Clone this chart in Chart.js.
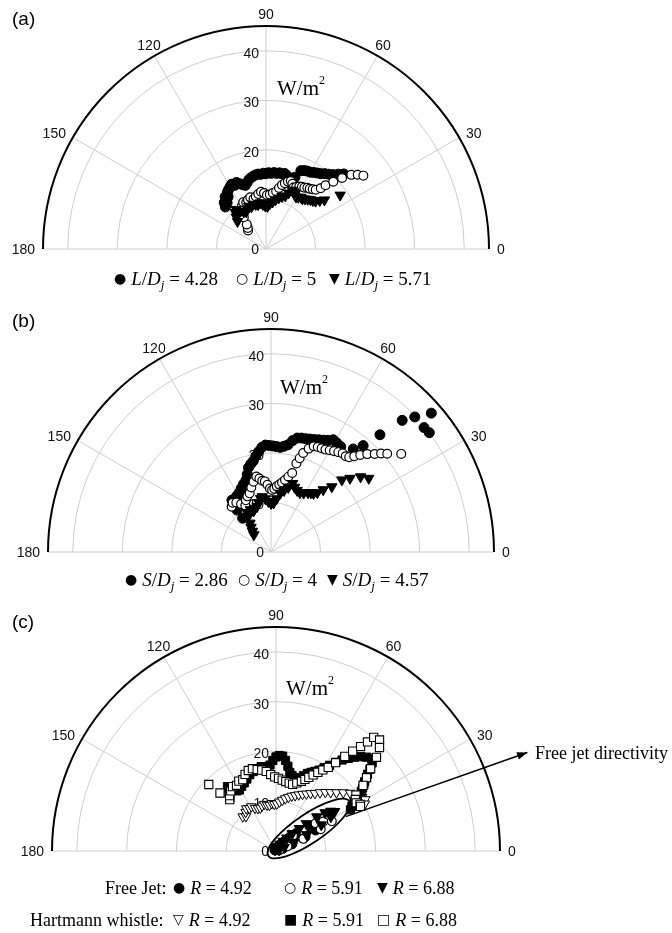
<!DOCTYPE html>
<html>
<head>
<meta charset="utf-8">
<script src="https://cdn.jsdelivr.net/npm/chart.js@4.4.0/dist/chart.umd.min.js"></script>
<style>
  body { margin:0; background:#fff; }
  #page { position:relative; width:672px; height:933px; overflow:hidden; color:#000; }
  canvas { position:absolute; left:0; }
  .tag { position:absolute; left:12px; font:19px "Liberation Sans", Arial, sans-serif; line-height:20px; }
  .unit { position:absolute; font:21px "Liberation Serif", serif; line-height:20px; }
  .unit sup { font-size:12px; position:relative; top:-3px; }
  .leg { position:absolute; font:19px "Liberation Serif", serif; line-height:22px; white-space:nowrap; }
  .legc { font-size:18px; }
  .mk { font:14px "DejaVu Sans", sans-serif; position:relative; top:-2px; margin-right:5px; }
  .leg sub { font-size:13px; vertical-align:-4px; line-height:0; }
  .note { position:absolute; left:535px; top:742px; font:18px "Liberation Serif", serif; line-height:22px; white-space:nowrap; }
</style>
</head>
<body>
<div id="page">
  <canvas id="chartA" width="672" height="300" style="top:0"></canvas>
  <canvas id="chartB" width="672" height="300" style="top:300px"></canvas>
  <canvas id="chartC" width="672" height="333" style="top:600px"></canvas>

  <div class="tag" style="top:9px">(a)</div>
  <div class="tag" style="top:311px">(b)</div>
  <div class="tag" style="top:612px">(c)</div>

  <div class="unit" style="left:277px;top:73px">W/m<sup>2</sup></div>
  <div class="unit" style="left:280px;top:372px">W/m<sup>2</sup></div>
  <div class="unit" style="left:286px;top:673px">W/m<sup>2</sup></div>

  <div class="leg" style="left:114px;top:268px"><span class="mk">●</span><i>L</i>/<i>D<sub>j</sub></i> = 4.28</div>
  <div class="leg" style="left:236px;top:268px"><span class="mk">○</span><i>L</i>/<i>D<sub>j</sub></i> = 5</div>
  <div class="leg" style="left:329px;top:268px"><span class="mk">▼</span><i>L</i>/<i>D<sub>j</sub></i> = 5.71</div>

  <div class="leg" style="left:125px;top:569px"><span class="mk">●</span><i>S</i>/<i>D<sub>j</sub></i> = 2.86</div>
  <div class="leg" style="left:238px;top:569px"><span class="mk">○</span><i>S</i>/<i>D<sub>j</sub></i> = 4</div>
  <div class="leg" style="left:327px;top:569px"><span class="mk">▼</span><i>S</i>/<i>D<sub>j</sub></i> = 4.57</div>

  <div class="leg legc" style="left:105px;top:877px">Free Jet:</div>
  <div class="leg legc" style="left:173px;top:877px"><span class="mk">●</span><i>R</i> = 4.92</div>
  <div class="leg legc" style="left:284px;top:877px"><span class="mk">○</span><i>R</i> = 5.91</div>
  <div class="leg legc" style="left:377px;top:877px"><span class="mk">▼</span><i>R</i> = 6.88</div>
  <div class="leg legc" style="left:30px;top:909px">Hartmann whistle:</div>
  <div class="leg legc" style="left:173px;top:909px"><span class="mk">▽</span><i>R</i> = 4.92</div>
  <div class="leg legc" style="left:284px;top:909px"><span class="mk">■</span><i>R</i> = 5.91</div>
  <div class="leg legc" style="left:377px;top:909px"><span class="mk">□</span><i>R</i> = 6.88</div>

  <div class="note">Free jet directivity</div>
</div>

<script>
// Polar axes
const rMax = 45;
const ringTicks = [10, 20, 30, 40];
const radialLabels = [0, 10, 20, 30, 40];
const angleLabels = [0, 30, 60, 90, 120, 150, 180];
const spokeAngles = [30, 60, 90, 120, 150];

// (a) L/Dj = 4.28, 5, 5.71  (angle in degrees, intensity in W/m2)
const degA1 = [134,132,130,128,126,124,122,120,118,116,114,112,110,108,106,104,102,100,98,96,94,92,90,88,86,84,82,80,78,76,74,72,70,68,66,64,62,60,58,56,54,52,50,48,46,44];
const valA1 = [11.8,12.6,12.2,13.4,13.0,13.9,14.2,14.5,14.8,14.3,14.7,14.2,13.8,13.5,13.9,14.4,14.7,14.9,15.1,15.2,15.1,15.3,15.2,15.4,15.3,15.5,15.4,15.6,15.5,15.7,15.4,15.0,14.9,15.6,17.3,17.6,17.8,17.9,18.2,18.5,18.8,19.3,19.7,20.2,21.0,21.8];
const degA2 = [134,131,128,125,122,119,116,113,110,107,104,101,98,95,92,89,86,83,80,78,76,74,72,70,68,66,64,62,60,58,56,54,52,50,48,47,45,43,41,39,37];
const valA2 = [5.2,5.6,6.3,7.8,9.2,10.0,10.5,10.2,10.6,10.9,10.4,10.8,11.2,11.6,11.3,10.9,11.0,11.4,11.8,12.6,13.3,13.8,14.3,14.6,14.2,13.6,13.9,14.3,14.5,14.6,14.9,15.0,15.3,15.6,16.5,17.6,19.2,21.0,22.8,23.8,24.6];
const degA3 = [136,133,130,127,124,121,118,115,112,109,106,103,100,97,94,91,88,85,82,79,76,73,70,68,66,64,62,60,58,56,54,52,50,48,46,44,42,40,36];
const valA3 = [8.0,8.8,9.6,10.0,9.2,8.7,8.5,8.9,9.3,9.0,9.4,9.2,9.1,9.4,9.0,8.7,8.6,9.2,9.6,10.1,10.6,11.1,11.4,12.2,13.0,12.8,12.4,12.1,12.3,12.6,12.5,12.8,13.1,13.4,13.6,13.9,14.6,15.4,18.5];

// (b) S/Dj = 2.86, 4, 4.57
const degB1 = [130,129,128,127,124,121,118,115,112,109,107,105,103,101,99,97,95,93,91,89,87,85,83,81,79,77,75,73,71,69,67,65,63,61,59,56.5,51.4,49.1,47.1,45.1,43.2,40.9,39.1,37.0];
const valB1 = [8.9,10.9,12.4,13.1,13.0,13.3,13.6,14.2,14.8,15.4,16.4,17.6,18.2,18.7,19.6,20.4,21.2,21.6,21.5,21.4,21.3,21.2,21.5,21.9,22.9,23.6,23.8,23.9,24.1,24.3,24.6,24.9,25.3,25.9,25.7,25.5,26.6,28.4,32.3,37.5,39.8,42.8,39.8,40.0];
const degB2 = [131,128,125,122,119,116,113,110,107,104,101,99,97,95,93,91,89,87,85,83,81,79,77,75,74,73,72,70,68,66,64,62,60,58,56,54,52,50.5,49,47.4,45.5,43.4,41.8,40.2,37];
const valB2 = [12.1,12.6,12.2,11.4,10.7,11.6,12.2,12.6,13.6,14.6,15.5,15.0,14.5,14.3,13.6,12.8,12.5,12.8,13.3,13.7,14.2,14.8,15.6,16.5,18.6,19.8,21.0,22.2,23.0,23.2,23.3,23.4,23.7,24.0,24.3,24.6,24.5,24.8,25.6,26.6,27.7,28.8,29.8,30.7,32.9];
const degB3 = [135,132,129,126,123,121,119,116,113,110,107,104,101,99,96,93,90,87,84,81,78,75,72.5,70,67,64,61,58,56,54,52,50,47,45.5,43,40,37];
const valB3 = [4.9,5.6,6.4,7.2,8.6,9.3,8.8,9.5,9.0,9.4,9.6,10.3,11.0,11.3,10.8,10.2,9.8,9.9,10.8,12.0,12.7,13.5,14.5,13.9,13.5,13.3,13.6,14.1,14.4,14.6,15.2,16.4,18.0,20.4,21.8,23.6,24.7];

// (c) free jet R = 4.92, 5.91, 6.88
const degC1 = [130,120,110,100,90,80,70,60,55,50,47,44,41,38,36,34,32,30,28,26,24,22,20];
const valC1 = [0.3,0.3,0.4,0.4,0.5,0.6,0.8,1.1,1.5,2.2,3.0,4.1,5.3,6.5,7.6,8.6,9.6,10.2,9.0,6.5,3.5,1.5,0.6];
const degC2 = [130,115,100,85,70,60,52,46,42,38,35,32,28,26,24,22,20];
const valC2 = [0.2,0.3,0.3,0.4,0.6,0.9,1.6,3.0,4.6,6.8,9.7,11.2,12.7,10.0,6.0,2.5,0.8];
const degC3 = [130,115,100,85,70,60,54,50,47,44,42,40,38,36,34,32,30,28,26,24,22];
const valC3 = [0.3,0.4,0.5,0.7,1.0,1.6,2.4,3.4,4.8,6.5,8.2,10.7,12.5,13.6,14.2,13.0,10.5,7.0,4.0,1.8,0.7];
// (c) Hartmann whistle R = 4.92, 5.91, 6.88
const degC4 = [134,131,128,125,122,119,116,113,110,107,104,101,98,95,92,89,86,83,80,77,74,71,68,65,62,59,56,53,50,47,44,41,38,35,32,30,28];
const valC4 = [9.6,9.2,9.9,10.4,10.1,10.2,9.6,9.3,9.2,9.5,9.7,9.4,9.3,9.6,9.4,9.5,9.9,10.3,10.7,11.1,11.5,11.8,12.2,12.6,13.0,13.5,14.0,14.7,15.4,16.1,16.9,17.9,18.9,19.8,20.4,20.7,20.2];
const degC5 = [131,129,127,125,123,121,118,115,112,109,106,103,100,97,94,92,90,88,86,84,82,80,78,76,74,72,70,68,66,64,62,60,58,56,54,52,50,48,46,44,42.5,41,40,39,38,37,36,35,33.5,32,30.5,29];
const valC5 = [14.1,15.0,16.2,15.2,14.4,14.3,14.7,15.1,15.6,16.2,16.6,16.9,17.2,17.0,17.3,18.2,18.9,19.2,19.1,18.3,17.2,16.0,15.5,15.2,14.9,15.3,16.1,16.8,17.3,17.8,18.4,19.3,20.3,21.5,22.6,23.6,24.6,25.5,26.2,26.7,26.2,25.0,24.0,23.4,22.6,22.1,21.5,20.9,19.6,18.5,17.7,17.1];
const degC6 = [135.3,134,132,130,127,124,121,118,115,112,109,106,103,100,97,94,91,88,85,82,79,76,73,70,68,66,64,62,60,58,56,54,52.5,51,50,49.3,47,45,43,41,39,37,35,33,31,29,27.8];
const valC6 = [19.0,16.2,13.9,14.5,15.1,15.6,15.4,15.9,15.8,16.6,17.1,17.2,16.8,16.5,16.1,15.4,14.9,14.6,14.3,14.1,13.9,13.8,14.3,14.9,15.5,16.2,17.0,17.9,18.8,19.8,21.4,23.5,25.3,27.0,28.6,30.1,30.5,29.4,27.6,25.2,23.4,21.9,19.6,19.0,18.8,19.3,19.2];

// "Free jet directivity" callout, in data units
const ellipseCenter = [6.6, 4.5];
const ellipseAxes = [9.8, 2.9];
const ellipseTilt = 34;
const arrowFrom = [14.0, 6.9];
const arrowTo = [50.5, 19.8];

// marker styles
const FILL_CIRCLE = { style:'circle', r:5, fill:'#000', bw:1 };
const OPEN_CIRCLE = { style:'circle', r:4.4, fill:'#fff', bw:1.2 };
const FILL_TRI = { style:'triangle', rot:180, r:6, fill:'#000', bw:1 };
const OPEN_TRI = { style:'triangle', rot:180, r:5.6, fill:'#fff', bw:1 };
const FILL_SQ = { style:'rect', r:5.8, fill:'#000', bw:1 };
const OPEN_SQ = { style:'rect', r:5.8, fill:'#fff', bw:1.1 };

const rad = d => d * Math.PI / 180;
const toXY = (deg, val) => deg.map((d, i) => ({ x: val[i] * Math.cos(rad(d)), y: val[i] * Math.sin(rad(d)) }));

// Polar grid drawn from the x/y scales
const polarGrid = {
  id: 'polarGrid',
  beforeDatasetsDraw(chart) {
    const { ctx, scales: { x, y } } = chart;
    const cx = x.getPixelForValue(0), cy = y.getPixelForValue(0);
    const u = x.getPixelForValue(1) - cx;
    const R = rMax * u;
    ctx.save();
    ctx.strokeStyle = '#cdcdcd';
    ctx.lineWidth = 1;
    ringTicks.forEach(t => {
      ctx.beginPath(); ctx.arc(cx, cy, t * u, Math.PI, 2 * Math.PI); ctx.stroke();
    });
    spokeAngles.forEach(a => {
      ctx.beginPath(); ctx.moveTo(cx, cy);
      ctx.lineTo(cx + R * Math.cos(rad(a)), cy - R * Math.sin(rad(a))); ctx.stroke();
    });
    ctx.beginPath(); ctx.moveTo(cx - R, cy); ctx.lineTo(cx + R, cy); ctx.stroke();

    ctx.strokeStyle = '#000';
    ctx.lineWidth = 2;
    ctx.beginPath(); ctx.arc(cx, cy, R, Math.PI, 2 * Math.PI); ctx.stroke();

    ctx.fillStyle = '#111';
    ctx.font = '14px "Liberation Sans", Arial, sans-serif';
    ctx.textBaseline = 'middle';
    angleLabels.forEach(a => {
      const c = Math.cos(rad(a)), s = Math.sin(rad(a));
      let d = 11;
      if (c > 0.8) { ctx.textAlign = 'left'; d = 8; }
      else if (c < -0.8) { ctx.textAlign = 'right'; d = 8; }
      else ctx.textAlign = 'center';
      ctx.fillText(String(a), cx + (R + d) * c, cy - (R + d) * s + (s < 0.6 ? 1 : 0));
    });
    ctx.textAlign = 'right';
    radialLabels.forEach(t => {
      ctx.fillText(String(t), cx - 7, t === 0 ? cy + 1 : cy - t * u + 3);
    });
    ctx.restore();
  }
};

const jetNote = {
  id: 'jetNote',
  afterDatasetsDraw(chart) {
    const { ctx, scales: { x, y } } = chart;
    const u = x.getPixelForValue(1) - x.getPixelForValue(0);
    ctx.save();
    ctx.strokeStyle = '#000'; ctx.fillStyle = '#000'; ctx.lineWidth = 1.8;
    ctx.beginPath();
    ctx.ellipse(x.getPixelForValue(ellipseCenter[0]), y.getPixelForValue(ellipseCenter[1]),
      ellipseAxes[0] * u, ellipseAxes[1] * u, -rad(ellipseTilt), 0, 2 * Math.PI);
    ctx.stroke();
    const x0 = x.getPixelForValue(arrowFrom[0]), y0 = y.getPixelForValue(arrowFrom[1]);
    const x1 = x.getPixelForValue(arrowTo[0]), y1 = y.getPixelForValue(arrowTo[1]);
    ctx.lineWidth = 1.5;
    ctx.beginPath(); ctx.moveTo(x0, y0); ctx.lineTo(x1, y1); ctx.stroke();
    const a = Math.atan2(y1 - y0, x1 - x0);
    ctx.beginPath();
    ctx.moveTo(x1, y1);
    ctx.lineTo(x1 - 11 * Math.cos(a - 0.35), y1 - 11 * Math.sin(a - 0.35));
    ctx.lineTo(x1 - 11 * Math.cos(a + 0.35), y1 - 11 * Math.sin(a + 0.35));
    ctx.closePath(); ctx.fill();
    ctx.restore();
  }
};

function polarChart(id, pad, series, extra) {
  return new Chart(document.getElementById(id), {
    type: 'scatter',
    data: {
      datasets: series.map((s, i) => ({
        data: toXY(s.deg, s.val),
        pointStyle: s.mk.style,
        rotation: s.mk.rot || 0,
        pointRadius: s.mk.r,
        pointHoverRadius: s.mk.r,
        backgroundColor: s.mk.fill,
        borderColor: '#000',
        borderWidth: s.mk.bw,
        order: series.length - i,
        clip: false
      }))
    },
    options: {
      responsive: false,
      animation: false,
      events: [],
      layout: { padding: pad },
      plugins: { legend: { display: false }, tooltip: { enabled: false } },
      scales: {
        x: { type: 'linear', min: -rMax, max: rMax, display: false },
        y: { type: 'linear', min: 0, max: rMax, display: false }
      }
    },
    plugins: [polarGrid].concat(extra || [])
  });
}

polarChart('chartA', { left: 43, right: 183, top: 26, bottom: 51 }, [
  { deg: degA1, val: valA1, mk: FILL_CIRCLE },
  { deg: degA2, val: valA2, mk: OPEN_CIRCLE },
  { deg: degA3, val: valA3, mk: FILL_TRI }
]);

polarChart('chartB', { left: 48, right: 178, top: 29, bottom: 48 }, [
  { deg: degB1, val: valB1, mk: FILL_CIRCLE },
  { deg: degB2, val: valB2, mk: OPEN_CIRCLE },
  { deg: degB3, val: valB3, mk: FILL_TRI }
]);

polarChart('chartC', { left: 52, right: 172, top: 27, bottom: 82 }, [
  { deg: degC1, val: valC1, mk: FILL_CIRCLE },
  { deg: degC2, val: valC2, mk: OPEN_CIRCLE },
  { deg: degC3, val: valC3, mk: FILL_TRI },
  { deg: degC4, val: valC4, mk: OPEN_TRI },
  { deg: degC5, val: valC5, mk: FILL_SQ },
  { deg: degC6, val: valC6, mk: OPEN_SQ }
], [jetNote]);
</script>
</body>
</html>
